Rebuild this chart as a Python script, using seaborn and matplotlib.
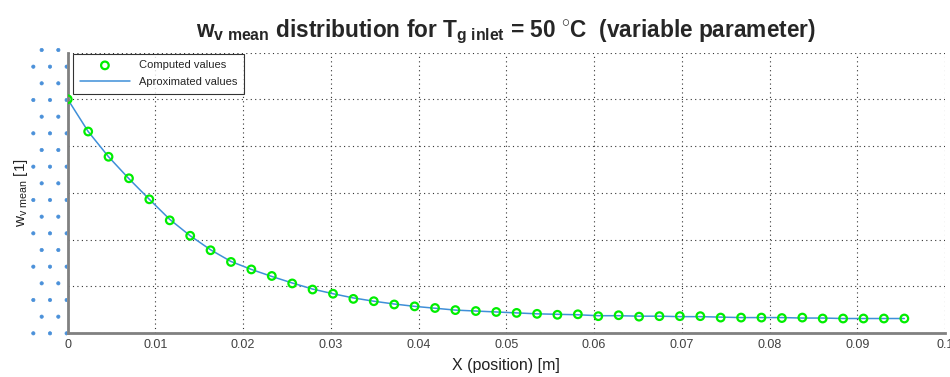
import matplotlib
matplotlib.use("Agg")
import matplotlib.pyplot as plt
from matplotlib.patches import Rectangle
import numpy as np
import pandas as pd
import seaborn as sns

# --- data (y in grid units, labels hidden) ---
x_pos = [0.0, 0.00233, 0.00465, 0.00698, 0.00930, 0.01163, 0.01396, 0.01628,
         0.01861, 0.02093, 0.02326, 0.02559, 0.02791, 0.03024, 0.03256, 0.03489,
         0.03722, 0.03954, 0.04187, 0.04419, 0.04652, 0.04885, 0.05117, 0.05350,
         0.05582, 0.05815, 0.06048, 0.06280, 0.06513, 0.06745, 0.06978, 0.07211,
         0.07443, 0.07676, 0.07908, 0.08141, 0.08374, 0.08606, 0.08839, 0.09071,
         0.09304, 0.09537]
computed = [5.00, 4.31, 3.77, 3.31, 2.86, 2.41, 2.08, 1.77, 1.52, 1.36, 1.22,
            1.06, 0.93, 0.84, 0.73, 0.68, 0.61, 0.57, 0.535, 0.49, 0.47, 0.45,
            0.43, 0.41, 0.39, 0.40, 0.36, 0.38, 0.35, 0.36, 0.36, 0.36, 0.33,
            0.33, 0.33, 0.32, 0.33, 0.31, 0.31, 0.31, 0.31, 0.31]
approx = [5.00, 4.31, 3.77, 3.30, 2.86, 2.43, 2.08, 1.78, 1.53, 1.36, 1.21,
          1.07, 0.94, 0.84, 0.75, 0.68, 0.62, 0.57, 0.53, 0.49, 0.47, 0.45,
          0.43, 0.41, 0.40, 0.39, 0.37, 0.37, 0.36, 0.36, 0.35, 0.35, 0.34,
          0.33, 0.33, 0.33, 0.32, 0.32, 0.31, 0.31, 0.31, 0.31]
x_ticks = [0, 0.01, 0.02, 0.03, 0.04, 0.05, 0.06, 0.07, 0.08, 0.09, 0.1]
x_tick_labels = ["0", "0.01", "0.02", "0.03", "0.04", "0.05", "0.06", "0.07",
                 "0.08", "0.09", "0.1"]
y_ticks = [0, 1, 2, 3, 4, 5, 6]

df = pd.DataFrame({"x": x_pos, "computed": computed, "approx": approx})

sns.set_theme(style="white")
plt.rcParams["font.family"] = ["Liberation Sans", "DejaVu Sans"]
plt.rcParams["mathtext.fontset"] = "custom"
plt.rcParams["mathtext.rm"] = "Liberation Sans"
plt.rcParams["mathtext.bf"] = "Liberation Sans:bold"
plt.rcParams["mathtext.it"] = "Liberation Sans"
plt.rcParams["hatch.linewidth"] = 0.5

fig = plt.figure(figsize=(9.5, 3.77), dpi=100)
ax = fig.add_axes([0.0713, 0.1167, 0.9234, 0.744])

sns.lineplot(data=df, x="x", y="approx", color="#3f8fd8", linewidth=1.1,
             ax=ax, label="Aproximated values", zorder=2)
sns.scatterplot(data=df, x="x", y="computed", marker="o", s=30,
                facecolor="none", edgecolor="#00ee00", linewidth=1.6,
                ax=ax, label="Computed values", zorder=3)

ax.set_xlim(0, 0.1)
ax.set_ylim(0, 6)
ax.set_xticks(x_ticks)
ax.set_xticklabels(x_tick_labels)
ax.set_yticks(y_ticks)
ax.set_yticklabels([])
ax.grid(True, color="#333333", linestyle=(0, (1, 3)), linewidth=0.8)
ax.tick_params(axis="x", direction="in", length=6, width=1.5, color="#808080",
               labelsize=9, labelcolor="#404040", pad=4)
ax.tick_params(axis="y", direction="in", length=8, width=1.0, color="black")
for side in ["top", "right"]:
    ax.spines[side].set_visible(False)
for side in ["left", "bottom"]:
    ax.spines[side].set_color("#808080")
    ax.spines[side].set_linewidth(2)

ax.set_xlabel("X (position) [m]", fontsize=11.5, color="#222222", labelpad=5)
ax.set_ylabel(r"w$_{\mathrm{v\ mean}}$ [1]", fontsize=11, color="#222222",
              labelpad=24)
ax.set_title(r"$\mathbf{w_{v\ mean}}$ distribution for $\mathbf{T_{g\ inlet}}$"
             r" = 50 $^{\mathbf{\circ}}$C  (variable parameter)",
             fontsize=16.3, fontweight="bold", pad=11)

handles, labels = ax.get_legend_handles_labels()
order = [1, 0]
leg = ax.legend([handles[i] for i in order], [labels[i] for i in order],
                loc="upper left", fontsize=8, frameon=True, fancybox=False,
                borderaxespad=0.1, handlelength=4.5, borderpad=0.6,
                labelspacing=0.6, bbox_to_anchor=(0.005, 1.0))
leg.get_frame().set_edgecolor("black")
leg.get_frame().set_linewidth(0.8)

# dotted overlay covering the hidden y tick labels
fig.patches.append(Rectangle((0.033, 0.11), 0.037, 0.78, transform=fig.transFigure,
                             facecolor="none", edgecolor="#4a90d9", linewidth=0,
                             hatch=".", zorder=0))

fig.savefig("out.png", dpi=100)
